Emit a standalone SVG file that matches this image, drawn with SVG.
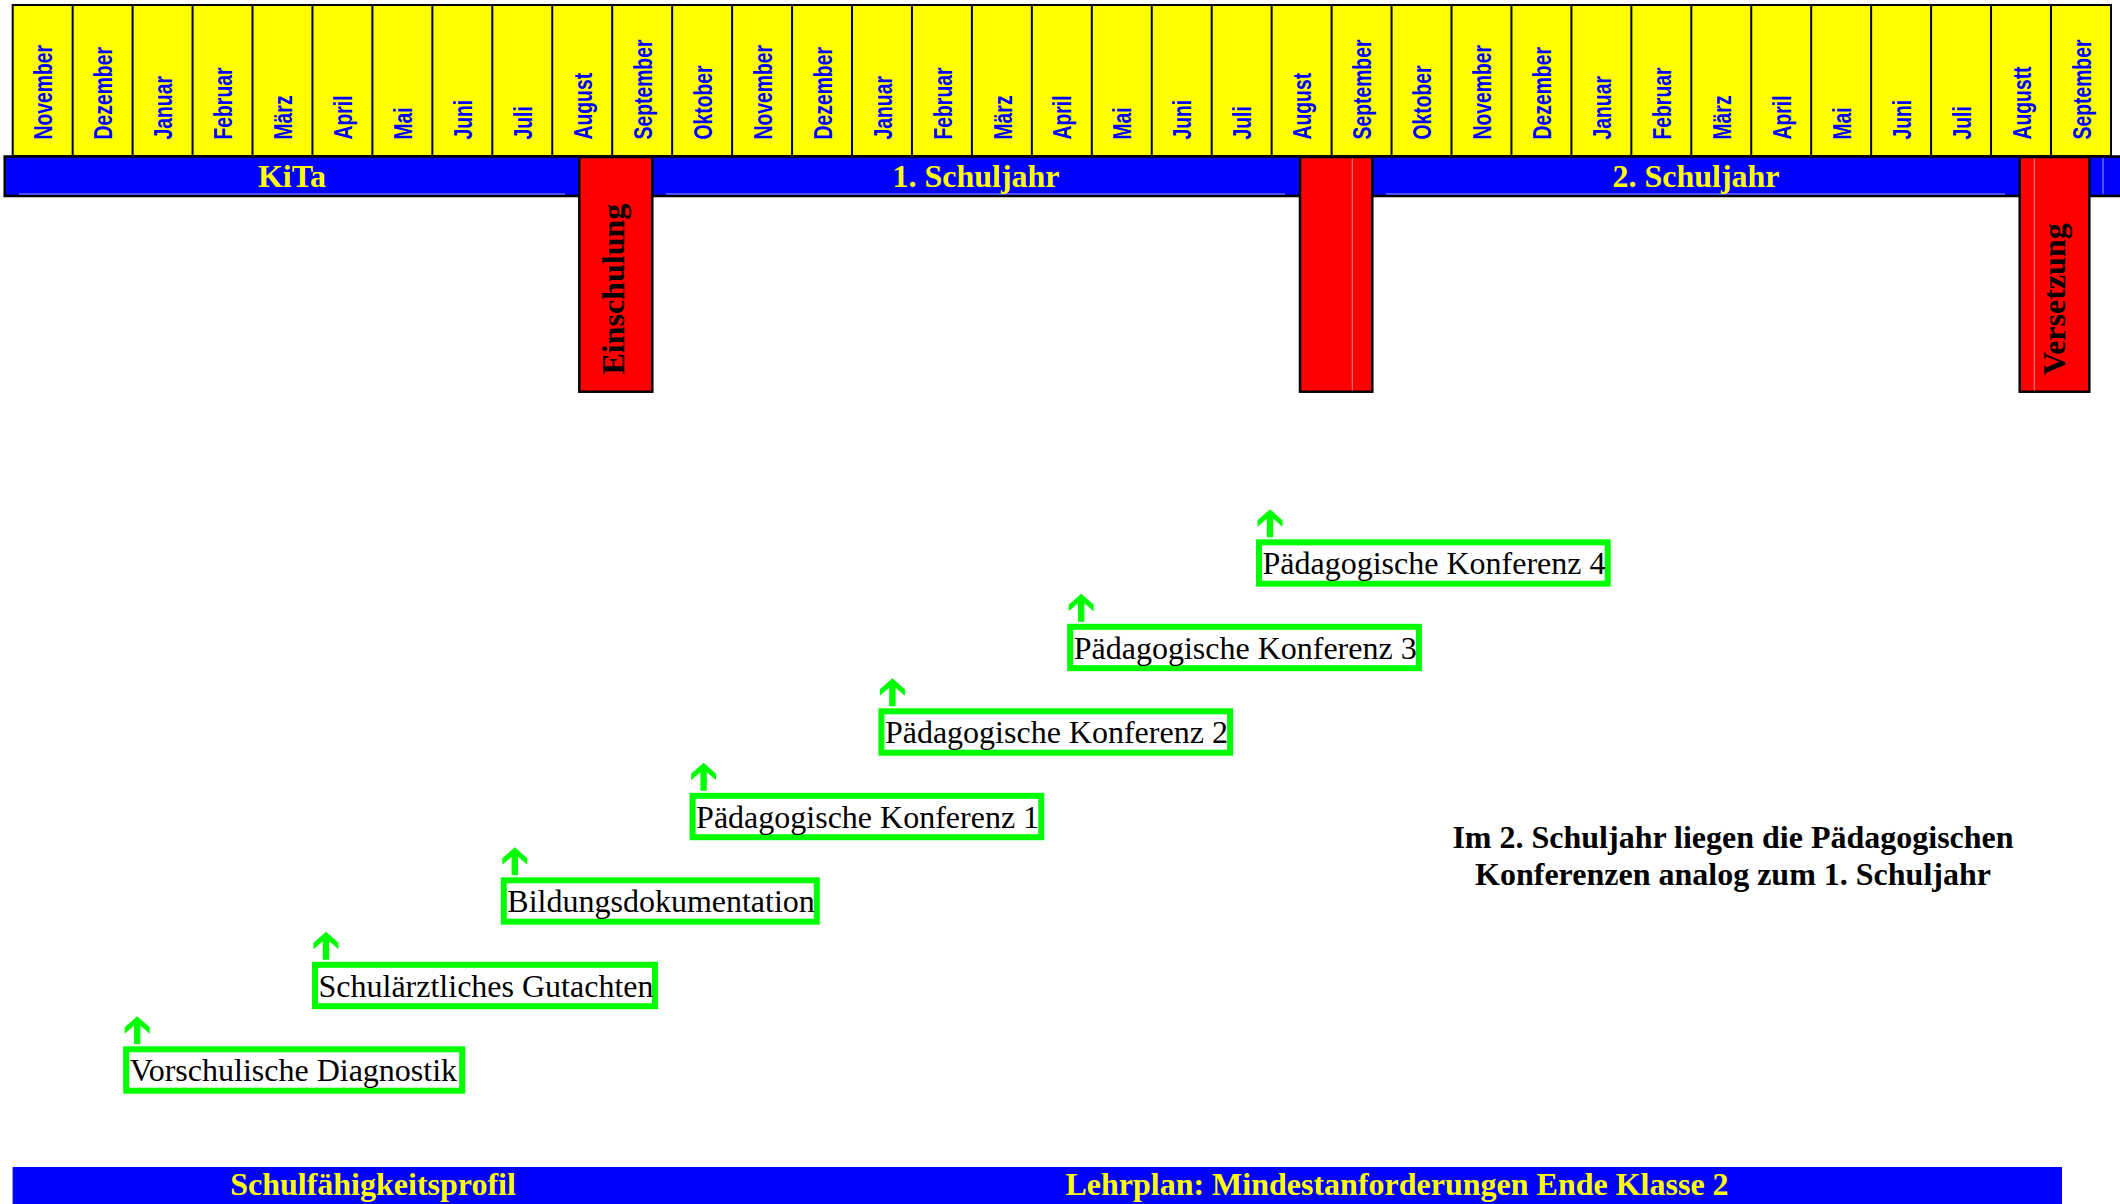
<svg xmlns="http://www.w3.org/2000/svg" xmlns:xlink="http://www.w3.org/1999/xlink" width="2120" height="1204" viewBox="0 0 2120 1204">
<style>
.col{fill:#ffff00;stroke:#000;stroke-width:2}
.mon{font-family:"Liberation Sans",Arial,sans-serif;font-weight:bold;font-size:26.5px;fill:#0000ff}
.bar{fill:#0000ff}
.bt{font-family:"Liberation Serif","Times New Roman",serif;font-weight:bold;font-size:32px;fill:#ffff00;text-anchor:middle}
.red{fill:#ff0000;stroke:#000;stroke-width:2.5}
.rt{font-family:"Liberation Serif","Times New Roman",serif;font-weight:bold;font-size:32px;fill:#000}
.gb{fill:#fff;stroke:#00ff00;stroke-width:6}
.gt{font-family:"Liberation Serif","Times New Roman",serif;font-size:32px;fill:#000}
.note{font-family:"Liberation Serif","Times New Roman",serif;font-weight:bold;font-size:32px;fill:#000;text-anchor:middle}
.hl{stroke:#6a6aff;stroke-width:1.5}
.pl{stroke:#ff8a8a;stroke-width:1}
</style>
<defs>
<path id="arr" d="M0,0 L12.5,11 L12.5,17.5 L3.2,9.5 L3.2,28 L-3.2,28 L-3.2,9.5 L-12.5,17.5 L-12.5,11 Z" fill="#00ff00"/>
</defs>
<rect width="2120" height="1204" fill="#fff"/>
<g id="months">
<rect class="col" x="12.7" y="5" width="2098.3" height="151"/>
<g stroke="#000" stroke-width="2">
<line x1="72.65" y1="5" x2="72.65" y2="156"/><line x1="132.6" y1="5" x2="132.6" y2="156"/><line x1="192.55" y1="5" x2="192.55" y2="156"/><line x1="252.5" y1="5" x2="252.5" y2="156"/><line x1="312.45" y1="5" x2="312.45" y2="156"/><line x1="372.4" y1="5" x2="372.4" y2="156"/><line x1="432.35" y1="5" x2="432.35" y2="156"/><line x1="492.3" y1="5" x2="492.3" y2="156"/><line x1="552.25" y1="5" x2="552.25" y2="156"/><line x1="612.2" y1="5" x2="612.2" y2="156"/><line x1="672.15" y1="5" x2="672.15" y2="156"/><line x1="732.1" y1="5" x2="732.1" y2="156"/><line x1="792.05" y1="5" x2="792.05" y2="156"/><line x1="852" y1="5" x2="852" y2="156"/><line x1="911.95" y1="5" x2="911.95" y2="156"/><line x1="971.9" y1="5" x2="971.9" y2="156"/><line x1="1031.85" y1="5" x2="1031.85" y2="156"/><line x1="1091.8" y1="5" x2="1091.8" y2="156"/><line x1="1151.75" y1="5" x2="1151.75" y2="156"/><line x1="1211.7" y1="5" x2="1211.7" y2="156"/><line x1="1271.65" y1="5" x2="1271.65" y2="156"/><line x1="1331.6" y1="5" x2="1331.6" y2="156"/><line x1="1391.55" y1="5" x2="1391.55" y2="156"/><line x1="1451.5" y1="5" x2="1451.5" y2="156"/><line x1="1511.45" y1="5" x2="1511.45" y2="156"/><line x1="1571.4" y1="5" x2="1571.4" y2="156"/><line x1="1631.35" y1="5" x2="1631.35" y2="156"/><line x1="1691.3" y1="5" x2="1691.3" y2="156"/><line x1="1751.25" y1="5" x2="1751.25" y2="156"/><line x1="1811.2" y1="5" x2="1811.2" y2="156"/><line x1="1871.15" y1="5" x2="1871.15" y2="156"/><line x1="1931.1" y1="5" x2="1931.1" y2="156"/><line x1="1991.05" y1="5" x2="1991.05" y2="156"/><line x1="2051" y1="5" x2="2051" y2="156"/>
</g>
<g class="mon">
<text transform="translate(52.3,139.5) rotate(-90) scale(0.73,1)">November</text>
<text transform="translate(112.25,139.5) rotate(-90) scale(0.73,1)">Dezember</text>
<text transform="translate(172.2,139.5) rotate(-90) scale(0.73,1)">Januar</text>
<text transform="translate(232.15,139.5) rotate(-90) scale(0.73,1)">Februar</text>
<text transform="translate(292.1,139.5) rotate(-90) scale(0.73,1)">März</text>
<text transform="translate(352.05,139.5) rotate(-90) scale(0.73,1)">April</text>
<text transform="translate(412,139.5) rotate(-90) scale(0.73,1)">Mai</text>
<text transform="translate(471.95,139.5) rotate(-90) scale(0.73,1)">Juni</text>
<text transform="translate(531.9,139.5) rotate(-90) scale(0.73,1)">Juli</text>
<text transform="translate(591.85,139.5) rotate(-90) scale(0.73,1)">August</text>
<text transform="translate(651.8,139.5) rotate(-90) scale(0.73,1)">September</text>
<text transform="translate(711.75,139.5) rotate(-90) scale(0.73,1)">Oktober</text>
<text transform="translate(771.7,139.5) rotate(-90) scale(0.73,1)">November</text>
<text transform="translate(831.65,139.5) rotate(-90) scale(0.73,1)">Dezember</text>
<text transform="translate(891.6,139.5) rotate(-90) scale(0.73,1)">Januar</text>
<text transform="translate(951.55,139.5) rotate(-90) scale(0.73,1)">Februar</text>
<text transform="translate(1011.5,139.5) rotate(-90) scale(0.73,1)">März</text>
<text transform="translate(1071.45,139.5) rotate(-90) scale(0.73,1)">April</text>
<text transform="translate(1131.4,139.5) rotate(-90) scale(0.73,1)">Mai</text>
<text transform="translate(1191.35,139.5) rotate(-90) scale(0.73,1)">Juni</text>
<text transform="translate(1251.3,139.5) rotate(-90) scale(0.73,1)">Juli</text>
<text transform="translate(1311.25,139.5) rotate(-90) scale(0.73,1)">August</text>
<text transform="translate(1371.2,139.5) rotate(-90) scale(0.73,1)">September</text>
<text transform="translate(1431.15,139.5) rotate(-90) scale(0.73,1)">Oktober</text>
<text transform="translate(1491.1,139.5) rotate(-90) scale(0.73,1)">November</text>
<text transform="translate(1551.05,139.5) rotate(-90) scale(0.73,1)">Dezember</text>
<text transform="translate(1611,139.5) rotate(-90) scale(0.73,1)">Januar</text>
<text transform="translate(1670.95,139.5) rotate(-90) scale(0.73,1)">Februar</text>
<text transform="translate(1730.9,139.5) rotate(-90) scale(0.73,1)">März</text>
<text transform="translate(1790.85,139.5) rotate(-90) scale(0.73,1)">April</text>
<text transform="translate(1850.8,139.5) rotate(-90) scale(0.73,1)">Mai</text>
<text transform="translate(1910.75,139.5) rotate(-90) scale(0.73,1)">Juni</text>
<text transform="translate(1970.7,139.5) rotate(-90) scale(0.73,1)">Juli</text>
<text transform="translate(2030.65,139.5) rotate(-90) scale(0.73,1)">Augustt</text>
<text transform="translate(2090.6,139.5) rotate(-90) scale(0.73,1)">September</text>
</g>
</g>
<g id="topbar">
<rect class="bar" x="4.7" y="156.5" width="2125" height="39.5" stroke="#000" stroke-width="2.5"/>
<line class="hl" x1="19" y1="194" x2="565" y2="194"/>
<line class="hl" x1="666" y1="194" x2="1285" y2="194"/>
<line class="hl" x1="1386" y1="194" x2="2005" y2="194"/>
<line class="hl" x1="2103" y1="158" x2="2103" y2="194"/>
<text class="bt" x="292" y="187">KiTa</text>
<text class="bt" x="976" y="187">1. Schuljahr</text>
<text class="bt" x="1696" y="187">2. Schuljahr</text>
</g>
<g id="einschulung">
<rect class="red" x="579.3" y="157" width="73" height="234.7"/>
<text class="rt" transform="translate(624,374.5) rotate(-90)">Einschulung</text>
</g>
<g id="uebergang">
<rect class="red" x="1300" y="157" width="72.3" height="234.7"/>
<line class="pl" x1="1352.3" y1="158.5" x2="1352.3" y2="390.5"/>
</g>
<g id="versetzung">
<rect class="red" x="2019.7" y="157" width="69.6" height="234.7"/>
<line class="pl" x1="2034.3" y1="158.5" x2="2034.3" y2="390.5"/>
<text class="rt" transform="translate(2065,375) rotate(-90)">Versetzung</text>
</g>
<g id="connectors">
<use xlink:href="#arr" x="1270" y="509.3"/>
<use xlink:href="#arr" x="1081.2" y="593.8"/>
<use xlink:href="#arr" x="892.4" y="678.3"/>
<use xlink:href="#arr" x="703.6" y="762.8"/>
<use xlink:href="#arr" x="514.8" y="847.3"/>
<use xlink:href="#arr" x="326" y="931.8"/>
<use xlink:href="#arr" x="137.2" y="1016.3"/>
</g>
<g id="pk4">
<rect class="gb" x="1259" y="542.3" width="348.7" height="41.4"/>
<text class="gt" x="1262.5" y="574.3">Pädagogische Konferenz 4</text>
</g>
<g id="pk3">
<rect class="gb" x="1070.2" y="626.8" width="348.7" height="41.4"/>
<text class="gt" x="1073.7" y="658.8">Pädagogische Konferenz 3</text>
</g>
<g id="pk2">
<rect class="gb" x="881.4" y="711.3" width="348.7" height="41.4"/>
<text class="gt" x="884.9" y="743.3">Pädagogische Konferenz 2</text>
</g>
<g id="pk1">
<rect class="gb" x="692.6" y="795.8" width="348.7" height="41.4"/>
<text class="gt" x="696.1" y="827.8">Pädagogische Konferenz 1</text>
</g>
<g id="bildung">
<rect class="gb" x="503.8" y="880.3" width="313" height="41.4"/>
<text class="gt" x="507.3" y="912.3">Bildungsdokumentation</text>
</g>
<g id="gutachten">
<rect class="gb" x="315" y="964.8" width="340" height="41.4"/>
<text class="gt" x="318.5" y="996.8">Schulärztliches Gutachten</text>
</g>
<g id="diagnostik">
<rect class="gb" x="126.2" y="1049.3" width="336" height="41.4"/>
<text class="gt" x="129.7" y="1081.3">Vorschulische Diagnostik</text>
</g>
<g id="note">
<text class="note" x="1733" y="848">Im 2. Schuljahr liegen die Pädagogischen</text>
<text class="note" x="1733" y="885">Konferenzen analog zum 1. Schuljahr</text>
</g>
<g id="bottombar">
<rect class="bar" x="12.6" y="1167" width="2049.4" height="45"/>
<text class="bt" x="373" y="1195">Schulfähigkeitsprofil</text>
<text class="bt" x="1397" y="1195">Lehrplan: Mindestanforderungen Ende Klasse 2</text>
</g>
</svg>
